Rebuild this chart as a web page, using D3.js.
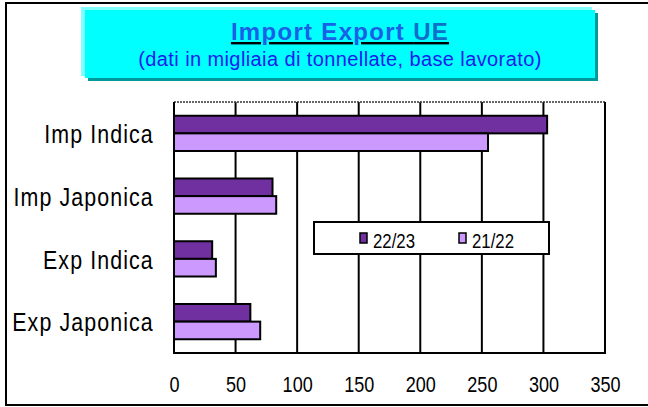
<!DOCTYPE html>
<html>
<head>
<meta charset="utf-8">
<script src="https://cdn.jsdelivr.net/npm/d3@7"></script>
<style>
  body { margin: 0; background: #fff; }
  svg { display: block; }
  text { font-family: "Liberation Sans", Arial, sans-serif; }
</style>
</head>
<body>
<div id="chart"></div>
<script>
// dati
var categories = ["Imp Indica", "Imp Japonica", "Exp Indica", "Exp Japonica"];
var series = ["22/23", "21/22"];
var values2223 = [303, 80, 31, 62];
var values2122 = [255, 83, 34, 70];
var xTicks = [0, 50, 100, 150, 200, 250, 300, 350];

var width = 648, height = 407;
var colors = { "22/23": "#7030A0", "21/22": "#CC99FF" };
var narrow = "scale(0.84,1)";

var svg = d3.select("#chart").append("svg")
    .attr("width", width)
    .attr("height", height);

// cornice esterna
svg.append("rect")
    .attr("x", 6).attr("y", 3)
    .attr("width", 660).attr("height", 402)
    .attr("fill", "#fff")
    .attr("stroke", "#000")
    .attr("stroke-width", 2);

// box del titolo
svg.append("rect").attr("x", 88).attr("y", 13).attr("width", 510).attr("height", 68).attr("fill", "#009999");
svg.append("rect").attr("x", 81).attr("y", 7).attr("width", 511).attr("height", 69).attr("fill", "#80ffff");
svg.append("rect").attr("x", 85).attr("y", 10).attr("width", 510).attr("height", 68).attr("fill", "#00ffff");

var title = svg.append("text")
    .attr("x", 340).attr("y", 40)
    .attr("text-anchor", "middle")
    .style("font-weight", "bold")
    .style("font-size", "24px")
    .style("letter-spacing", "1.3px")
    .style("text-decoration", "underline");
title.append("tspan").attr("fill", "#1a5fe6").text("Import Export ");
title.append("tspan").attr("fill", "#1070c8").text("UE");

svg.append("text")
    .attr("x", 340).attr("y", 66)
    .attr("text-anchor", "middle")
    .attr("fill", "#1a1aee")
    .style("font-size", "20px")
    .style("letter-spacing", "0.4px")
    .text("(dati in migliaia di tonnellate, base lavorato)");

// area del grafico
var x0 = 174, x1 = 605, y0 = 102, y1 = 353;

var x = d3.scaleLinear().domain([0, 350]).range([x0, x1]);
var y = d3.scaleBand().domain(categories).range([y0, y1]);
var yInner = d3.scaleBand().domain(series).range([0, y.bandwidth()]).paddingOuter(0.78);

// griglia
svg.append("g").selectAll("line")
    .data(xTicks.filter(function(d) { return d > 0 && d < 350; }))
    .enter().append("line")
    .attr("x1", function(d) { return x(d); })
    .attr("x2", function(d) { return x(d); })
    .attr("y1", y0).attr("y2", y1)
    .attr("stroke", "#000")
    .attr("stroke-width", 2);

// bordo superiore tratteggiato e bordo destro
svg.append("line")
    .attr("x1", x0).attr("x2", x1).attr("y1", y0).attr("y2", y0)
    .attr("stroke", "#333").attr("stroke-width", 1.5).attr("stroke-dasharray", "2,1");
svg.append("line")
    .attr("x1", x1).attr("x2", x1).attr("y1", y0).attr("y2", y1)
    .attr("stroke", "#000").attr("stroke-width", 2);

var rows = categories.map(function(c, i) {
    return { cat: c, vals: [{ s: "22/23", v: values2223[i] }, { s: "21/22", v: values2122[i] }] };
});

var groups = svg.append("g").selectAll("g")
    .data(rows)
    .enter().append("g")
    .attr("transform", function(d) { return "translate(0," + y(d.cat) + ")"; });

groups.selectAll("rect")
    .data(function(d) { return d.vals; })
    .enter().append("rect")
    .attr("x", x(0))
    .attr("y", function(d) { return yInner(d.s); })
    .attr("width", function(d) { return x(d.v) - x(0); })
    .attr("height", yInner.bandwidth())
    .attr("fill", function(d) { return colors[d.s]; })
    .attr("stroke", "#000")
    .attr("stroke-width", 2);

// assi
var xAxis = d3.axisBottom(x).tickValues(xTicks).tickSize(0).tickPadding(0);
var gx = svg.append("g")
    .attr("transform", "translate(0," + y1 + ")")
    .call(xAxis);
gx.select(".domain").remove();
gx.selectAll("text")
    .attr("y", 39).attr("dy", 0)
    .attr("transform", narrow)
    .attr("fill", "#000")
    .style("font-family", "'Liberation Sans', Arial, sans-serif")
    .style("font-size", "21.5px");
svg.append("line")
    .attr("x1", x0 - 1).attr("x2", x1 + 1).attr("y1", y1).attr("y2", y1)
    .attr("stroke", "#000").attr("stroke-width", 2);

var yAxis = d3.axisLeft(y).tickSize(0).tickPadding(0);
var gy = svg.append("g")
    .attr("transform", "translate(" + x0 + ",0)")
    .call(yAxis);
gy.select(".domain").remove();
gy.selectAll("text")
    .attr("x", -24)
    .attr("dy", "0.38em")
    .attr("transform", narrow)
    .attr("fill", "#000")
    .style("font-family", "'Liberation Sans', Arial, sans-serif")
    .style("font-size", "25.5px")
    .style("letter-spacing", "1.3px");
svg.append("line")
    .attr("x1", x0).attr("x2", x0).attr("y1", y0).attr("y2", y1)
    .attr("stroke", "#000").attr("stroke-width", 2);

// legenda
var legend = svg.append("g").attr("transform", "translate(314,222)");
legend.append("rect")
    .attr("width", 235).attr("height", 32)
    .attr("fill", "#fff")
    .attr("stroke", "#000").attr("stroke-width", 2);
var li = legend.selectAll(".item")
    .data(series)
    .enter().append("g")
    .attr("class", "item")
    .attr("transform", function(d, i) { return "translate(" + (46 + i * 99) + ",11)"; });
li.append("rect")
    .attr("width", 7).attr("height", 10)
    .attr("fill", function(d) { return colors[d]; })
    .attr("stroke", "#000").attr("stroke-width", 1.5);
li.append("text")
    .attr("transform", "translate(13,14.5) " + narrow)
    .style("font-size", "20px")
    .text(function(d) { return d; });
</script>
</body>
</html>
